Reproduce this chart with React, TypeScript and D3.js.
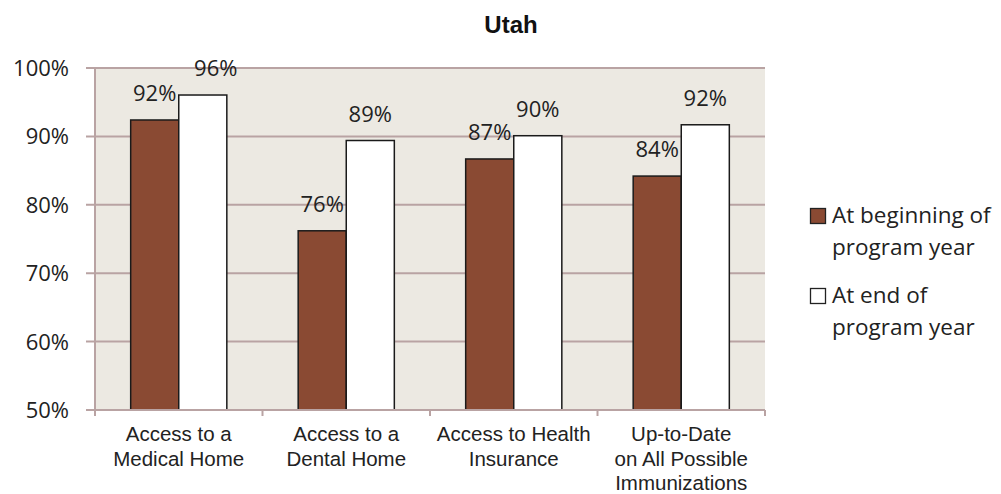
import React from "react";
import * as d3 from "d3";

const title = "Utah";
const categories = [
  ["Access to a", "Medical Home"],
  ["Access to a", "Dental Home"],
  ["Access to Health", "Insurance"],
  ["Up-to-Date", "on All Possible", "Immunizations"],
];
const beginValues = [92.4, 76.2, 86.7, 84.2];
const endValues = [96.05, 89.4, 90.1, 91.7];
const beginLabels = ["92%", "76%", "87%", "84%"];
const endLabels = ["96%", "89%", "90%", "92%"];
const yTicks = [50, 60, 70, 80, 90, 100];
const seriesNames = [
  ["At beginning of", "program year"],
  ["At end of", "program year"],
];

const W = 1001;
const H = 494;
const left = 95;
const right = 765;
const top = 68;
const bottom = 410;
const axisColor = "#b9a3a3";
const bg = "#ece9e2";
const brown = "#8a4a33";
const valueFont = "'Open Sans', sans-serif";
const catFont = "'Liberation Sans', Arial, sans-serif";

export default function App() {
  const x = d3.scaleBand<number>().domain(d3.range(categories.length)).range([left, right]);
  const y = d3.scaleLinear().domain([50, 100]).range([bottom, top]);
  const bw = x.bandwidth();
  const barW = bw * 0.287;
  const gap = (bw - 2 * barW) / 2;

  const series = [
    { values: beginValues, labels: beginLabels, fill: brown, off: 0 },
    { values: endValues, labels: endLabels, fill: "#ffffff", off: 1 },
  ];

  return (
    <svg width={W} height={H} style={{ position: "absolute", left: 0, top: 0 }}>
      <rect x={0} y={0} width={W} height={H} fill="#fff" />
      <text x={511} y={33} textAnchor="middle" fontFamily={catFont} fontWeight="bold" fontSize={24} fill="#111">
        {title}
      </text>
      <rect x={left} y={top} width={right - left} height={bottom - top} fill={bg} />
      {yTicks.map((t) => (
        <g key={t}>
          <line x1={left - 9} x2={right} y1={y(t)} y2={y(t)} stroke={axisColor} strokeWidth={2} />
          <text x={69} y={y(t) + 8} textAnchor="end" fontFamily={valueFont} fontSize={22} fill="#222">
            {t}%
          </text>
        </g>
      ))}
      <line x1={left} x2={left} y1={top} y2={bottom + 6} stroke={axisColor} strokeWidth={2} />
      <line x1={right} x2={right} y1={bottom} y2={bottom + 6} stroke={axisColor} strokeWidth={2} />
      {categories.map((_, i) => (
        <line key={i} x1={x(i)!} x2={x(i)!} y1={bottom} y2={bottom + 6} stroke={axisColor} strokeWidth={2} />
      ))}
      {series.map((s, si) =>
        s.values.map((v, i) => {
          const bx = x(i)! + gap + s.off * barW;
          const by = y(v);
          const labelTop = by - 19 - 16;
          const dx = labelTop < top ? 13 : 0;
          return (
            <g key={`${si}-${i}`}>
              <rect x={bx} y={by} width={barW} height={bottom - by} fill={s.fill} stroke="#1a1a1a" strokeWidth={1.5} />
              <text x={bx + barW / 2 + dx} y={by - 19} textAnchor="middle" fontFamily={valueFont} fontSize={22} fill="#222">
                {s.labels[i]}
              </text>
            </g>
          );
        })
      )}
      <line x1={left} x2={right} y1={bottom} y2={bottom} stroke={axisColor} strokeWidth={2} />
      {categories.map((lines, i) => (
        <text key={i} textAnchor="middle" fontFamily={catFont} fontSize={20.5} fill="#222">
          {lines.map((l, j) => (
            <tspan key={j} x={x(i)! + bw / 2} y={441 + j * 24.5}>
              {l}
            </tspan>
          ))}
        </text>
      ))}
      {seriesNames.map((lines, i) => (
        <g key={i}>
          <rect x={810.5} y={208.5 + i * 80} width={15} height={15} fill={series[i].fill} stroke="#222" strokeWidth={1.3} />
          <text fontFamily={valueFont} fontSize={22.5} fill="#222">
            {lines.map((l, j) => (
              <tspan key={j} x={832} y={223 + i * 80 + j * 32}>
                {l}
              </tspan>
            ))}
          </text>
        </g>
      ))}
    </svg>
  );
}
